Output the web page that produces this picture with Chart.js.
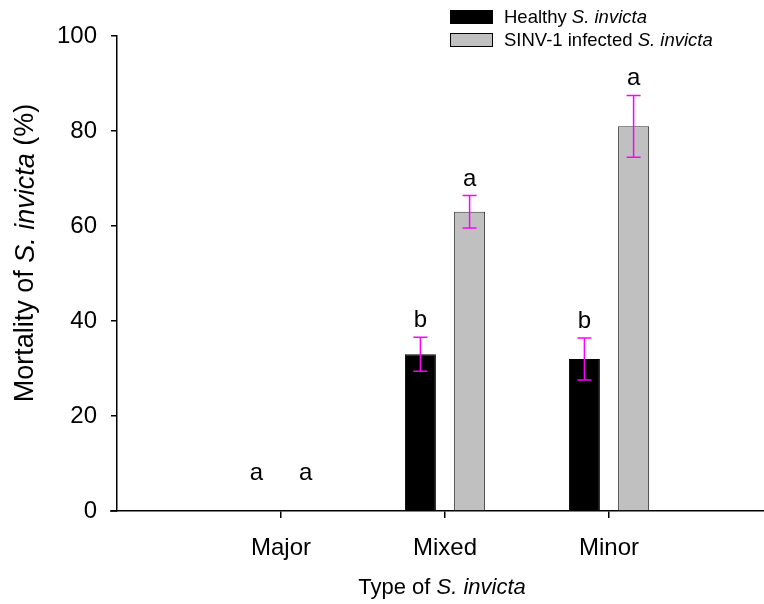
<!DOCTYPE html>
<html>
<head>
<meta charset="utf-8">
<script src="https://cdn.jsdelivr.net/npm/chart.js@4.4.0/dist/chart.umd.min.js"></script>
<style>
  body { margin: 0; background: #fff; }
  canvas { display: block; }
</style>
</head>
<body>
<canvas id="myChart" width="764" height="604"></canvas>
<script>
// data
const categories = ['Major', 'Mixed', 'Minor'];
const healthy = [0, 33, 32];
const healthyErr = [0, 3.6, 4.4];
const healthyLetters = ['a', 'b', 'b'];
const infected = [0, 63, 81];
const infectedErr = [0, 3.4, 6.5];
const infectedLetters = ['a', 'a', 'a'];
const yTicks = [0, 20, 40, 60, 80, 100];

const FONT = '"Liberation Sans", Arial, sans-serif';

// draw text with some parts in italic
function drawParts(ctx, parts, x, y, size, align) {
    let total = 0;
    parts.forEach(p => {
        ctx.font = (p.i ? 'italic ' : '') + size + 'px ' + FONT;
        p.w = ctx.measureText(p.t).width;
        total += p.w;
    });
    let cx = align === 'center' ? x - total / 2 : x;
    ctx.textAlign = 'left';
    parts.forEach(p => {
        ctx.font = (p.i ? 'italic ' : '') + size + 'px ' + FONT;
        ctx.fillText(p.t, cx, y);
        cx += p.w;
    });
}

const overlay = {
    id: 'overlay',
    afterDatasetsDraw(chart) {
        const ctx = chart.ctx;
        const ys = chart.scales.y;
        ctx.save();

        // error bars + letters
        chart.data.datasets.forEach((ds, di) => {
            let meta = chart.getDatasetMeta(di);
            meta.data.forEach((bar, i) => {
                let v = ds.data[i].y;
                let e = ds.err[i];
                if (e > 0) {
                    let top = ys.getPixelForValue(v + e);
                    let bot = ys.getPixelForValue(v - e);
                    ctx.strokeStyle = '#ff00ff';
                    ctx.lineWidth = 1.5;
                    ctx.beginPath();
                    ctx.moveTo(bar.x, top); ctx.lineTo(bar.x, bot);
                    ctx.moveTo(bar.x - 7, top); ctx.lineTo(bar.x + 7, top);
                    ctx.moveTo(bar.x - 7, bot); ctx.lineTo(bar.x + 7, bot);
                    ctx.stroke();
                }
                let ly = ys.getPixelForValue(Math.max(v + e, 4.5)) - 10;
                ctx.fillStyle = '#000';
                ctx.font = '24px ' + FONT;
                ctx.textAlign = 'center';
                ctx.textBaseline = 'alphabetic';
                ctx.fillText(ds.letters[i], bar.x, ly);
            });
        });

        // small stub of x axis left of the y axis
        const area = chart.chartArea;
        ctx.strokeStyle = '#000';
        ctx.lineWidth = 1.5;
        ctx.beginPath();
        ctx.moveTo(area.left - 7, ys.getPixelForValue(0));
        ctx.lineTo(area.left, ys.getPixelForValue(0));
        ctx.stroke();

        // axis titles
        ctx.fillStyle = '#000';
        ctx.textBaseline = 'middle';
        drawParts(ctx, [{t: 'Type of '}, {t: 'S. invicta', i: true}], 442, 588, 22, 'center');
        ctx.save();
        ctx.translate(26, 253);
        ctx.rotate(-Math.PI / 2);
        drawParts(ctx, [{t: 'Mortality of '}, {t: 'S. invicta', i: true}, {t: ' (%)'}], 0, 0, 27, 'center');
        ctx.restore();

        // legend
        const legend = [
            {fill: '#000', parts: [{t: 'Healthy '}, {t: 'S. invicta', i: true}]},
            {fill: '#c0c0c0', parts: [{t: 'SINV-1 infected '}, {t: 'S. invicta', i: true}]}
        ];
        legend.forEach((l, k) => {
            let by = 10 + k * 23;
            ctx.fillStyle = l.fill;
            ctx.fillRect(450, by, 43, 14);
            ctx.strokeStyle = '#000';
            ctx.lineWidth = 1;
            ctx.strokeRect(450.5, by + 0.5, 42, 13);
            ctx.fillStyle = '#000';
            ctx.textBaseline = 'middle';
            drawParts(ctx, l.parts, 504, by + 8, 18.5, 'left');
        });

        ctx.restore();
    }
};

const ctx = document.getElementById('myChart').getContext('2d');
const myChart = new Chart(ctx, {
    type: 'bar',
    data: {
        datasets: [{
            label: 'Healthy S. invicta',
            data: categories.map((c, i) => ({x: i + 1, y: healthy[i]})),
            err: healthyErr,
            letters: healthyLetters,
            backgroundColor: '#000',
            borderColor: '#000',
            borderWidth: 1
        }, {
            label: 'SINV-1 infected S. invicta',
            data: categories.map((c, i) => ({x: i + 1, y: infected[i]})),
            err: infectedErr,
            letters: infectedLetters,
            backgroundColor: '#c0c0c0',
            borderColor: '#333',
            borderWidth: 1
        }]
    },
    options: {
        responsive: false,
        animation: false,
        categoryPercentage: 0.6,
        barPercentage: 0.63,
        layout: { padding: { top: 36, left: 0, right: 0, bottom: 0 } },
        plugins: {
            legend: { display: false },
            tooltip: { enabled: false }
        },
        scales: {
            x: {
                type: 'linear',
                offset: false,
                min: 0,
                max: 647 / 164,
                afterBuildTicks: axis => {
                    axis.ticks = categories.map((c, i) => ({value: i + 1}));
                },
                afterFit: scale => { scale.height = 93; },
                ticks: {
                    callback: v => categories[v - 1],
                    color: '#000',
                    font: { family: FONT, size: 24 },
                    padding: 16,
                    maxRotation: 0
                },
                grid: { display: true, offset: false, drawOnChartArea: false, drawTicks: true, tickLength: 7, color: '#000', lineWidth: 1.5 },
                border: { display: true, color: '#000', width: 1.5 }
            },
            y: {
                min: 0,
                max: 100,
                afterBuildTicks: axis => {
                    axis.ticks = yTicks.map(v => ({value: v}));
                },
                afterFit: scale => { scale.width = 117; },
                ticks: {
                    color: '#000',
                    font: { family: FONT, size: 24 },
                    padding: 14
                },
                grid: { display: true, drawOnChartArea: false, drawTicks: true, tickLength: 6, color: '#000', lineWidth: 1.5 },
                border: { display: true, color: '#000', width: 1.5 }
            }
        }
    },
    plugins: [overlay]
});
</script>
</body>
</html>
